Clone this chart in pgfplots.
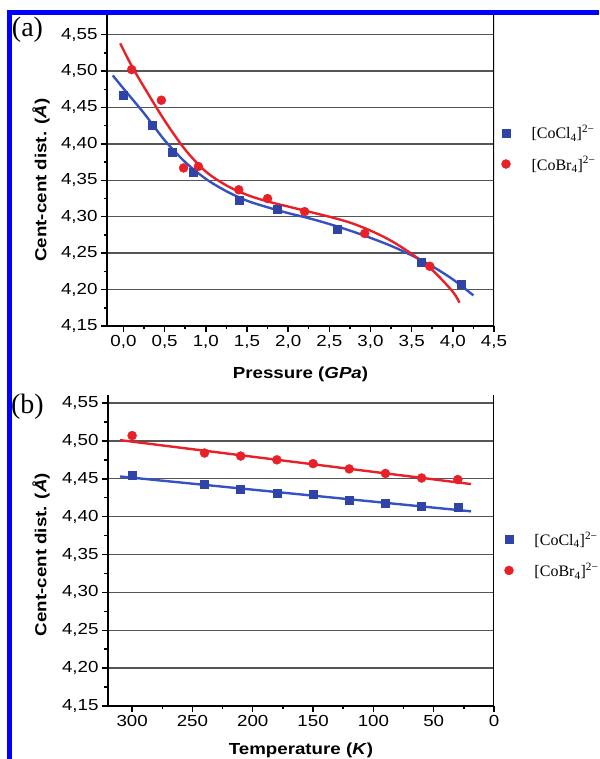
\documentclass[border=0pt]{standalone}
\usepackage{fontspec}
\usepackage{pgfplots}
\pgfplotsset{compat=1.18}
\newfontfamily\lsans[FakeStretch=1.17]{Liberation Sans}
\newfontfamily\lserif{Liberation Serif}
\definecolor{bm}{RGB}{48,68,168}
\definecolor{bl}{RGB}{52,82,195}
\definecolor{rd}{RGB}{232,32,40}
\definecolor{gridc}{RGB}{85,85,85}
\pgfplotsset{
  mystyle/.style={
    scale only axis,
    axis lines*=left,
    axis line style={line width=2pt, black},
    tick align=outside,
    major tick length=6pt, minor tick length=3.5pt,
    every tick/.style={black, line width=1.5pt},
    ymajorgrids,
    major grid style={gridc, line width=1.4pt},
    minor y tick num=1, minor x tick num=1,
    ymin=4.15, ytick={4.15,4.20,4.25,4.30,4.35,4.40,4.45,4.50,4.55},
    tick label style={font=\lsans\fontsize{16}{18}\selectfont},
    /pgf/number format/assume math mode=true,
    yticklabel style={/pgf/number format/.cd, fixed, fixed zerofill, precision=2, use comma},
    label style={font=\lsans\bfseries\fontsize{16}{18}\selectfont},
    legend style={draw=none, fill=none, inner sep=0pt, outer sep=0pt,
      font=\lserif\fontsize{16}{18}\selectfont, row sep=10pt,
      nodes={inner sep=3pt}},
    legend cell align=left,
    legend image code/.code={\draw[##1] plot coordinates {(0pt,0pt)};},
    /tikz/every odd column/.append style={column sep=18pt},
  }
}
\begin{document}
\begin{tikzpicture}[x=1pt,y=1pt]
\useasboundingbox (0,0) rectangle (599,759);
% ---------- (a) pressure ----------
\begin{axis}[mystyle, at={(107pt,433pt)}, anchor=south west,
  width=387pt, height=311pt,
  xmin=-0.2, xmax=4.5, ymax=4.577,
  xtick={0,0.5,1,1.5,2,2.5,3,3.5,4,4.5},
  xticklabel style={/pgf/number format/.cd, fixed, fixed zerofill, precision=1, use comma},
  xlabel={Pressure (\textit{GPa})},
  xlabel style={at={([yshift=-48.5pt]rel axis cs:0.5,0)}, anchor=center},
  ylabel={Cent-cent dist. (\textit{Å})},
  ylabel style={at={([xshift=-66pt]rel axis cs:0,0.469)}, anchor=center},
  legend style={at={([xshift=7.5pt]rel axis cs:1,0.571)}, anchor=west},
]
\addplot[only marks, mark=square*, mark size=4pt, color=bm, mark options={draw=bm, fill=bm}]
 coordinates {(0.00,4.467) (0.35,4.425) (0.59,4.389) (0.85,4.361) (1.41,4.323)
   (1.87,4.311) (2.60,4.283) (3.62,4.238) (4.10,4.207)};
\addlegendentry{[CoCl\textsubscript{4}]\textsuperscript{2−}}
\addplot[only marks, mark=*, mark size=4.5pt, color=rd, mark options={draw=rd, fill=rd}]
 coordinates {(0.10,4.502) (0.46,4.460) (0.73,4.367) (0.91,4.369) (1.40,4.337)
   (1.75,4.325) (2.20,4.307) (2.93,4.277) (3.72,4.232)};
\addlegendentry{[CoBr\textsubscript{4}]\textsuperscript{2−}}
\addplot[forget plot, smooth, bl, line width=2.4pt, no marks]
 coordinates {(-0.13,4.494) (0,4.476) (0.25,4.442) (0.5,4.405) (0.75,4.375) (1.0,4.352)
   (1.25,4.335) (1.5,4.322) (1.75,4.313) (2.0,4.305) (2.25,4.298) (2.5,4.290)
   (2.75,4.281) (3.0,4.271) (3.25,4.260) (3.5,4.247) (3.75,4.232) (4.0,4.214) (4.25,4.192)};
\addplot[forget plot, smooth, rd, line width=2.4pt, no marks]
 coordinates {(-0.04,4.538) (0.1,4.507) (0.25,4.478) (0.5,4.432) (0.75,4.392) (1.0,4.362)
   (1.25,4.343) (1.5,4.330) (1.75,4.321) (2.0,4.314) (2.25,4.307) (2.5,4.300)
   (2.75,4.292) (3.0,4.281) (3.25,4.267) (3.5,4.249) (3.75,4.227) (4.0,4.197) (4.08,4.182)};
\draw[line width=2pt, black] (rel axis cs:1,0) -- (rel axis cs:1,1);
\end{axis}
% ---------- (b) temperature ----------
\begin{axis}[mystyle, at={(108pt,53pt)}, anchor=south west,
  width=386pt, height=311pt,
  x dir=reverse, xmin=0, xmax=320, ymax=4.5606,
  xtick={0,50,100,150,200,250,300},
  xlabel={Temperature (\textit{K})},
  xlabel style={at={([yshift=-52pt]rel axis cs:0.5,0)}, anchor=south, inner sep=0pt},
  ylabel={Cent-cent dist. (\textit{Å})},
  ylabel style={at={([xshift=-67pt]rel axis cs:0,0.487)}, anchor=center},
  legend style={at={([xshift=10.5pt]rel axis cs:1,0.486)}, anchor=west},
]
\addplot[only marks, mark=square*, mark size=4pt, color=bm, mark options={draw=bm, fill=bm}]
 coordinates {(300,4.455) (240,4.443) (210,4.436) (180,4.431) (150,4.429)
   (120,4.422) (90,4.418) (60,4.414) (30,4.413)};
\addlegendentry{[CoCl\textsubscript{4}]\textsuperscript{2−}}
\addplot[only marks, mark=*, mark size=4.5pt, color=rd, mark options={draw=rd, fill=rd}]
 coordinates {(300,4.507) (240,4.484) (210,4.480) (180,4.475) (150,4.470)
   (120,4.463) (90,4.457) (60,4.451) (30,4.449)};
\addlegendentry{[CoBr\textsubscript{4}]\textsuperscript{2−}}
\addplot[forget plot, bl, line width=2.4pt, no marks]
 coordinates {(310,4.453) (19,4.407)};
\addplot[forget plot, rd, line width=2.4pt, no marks]
 coordinates {(310,4.501) (19,4.443)};
\draw[line width=2pt, black] (rel axis cs:1,0) -- (rel axis cs:1,1);
\end{axis}
% ---------- panel labels and frame ----------
\node[font=\lserif\fontsize{28}{30}\selectfont] at (27.5,729.5) {(a)};
\node[font=\lserif\fontsize{28}{30}\selectfont] at (27.5,352.5) {(b)};
\fill[blue] (7.3,0) rectangle (12.3,749);
\fill[blue] (7.3,744) rectangle (599,749);
\end{tikzpicture}
\end{document}
